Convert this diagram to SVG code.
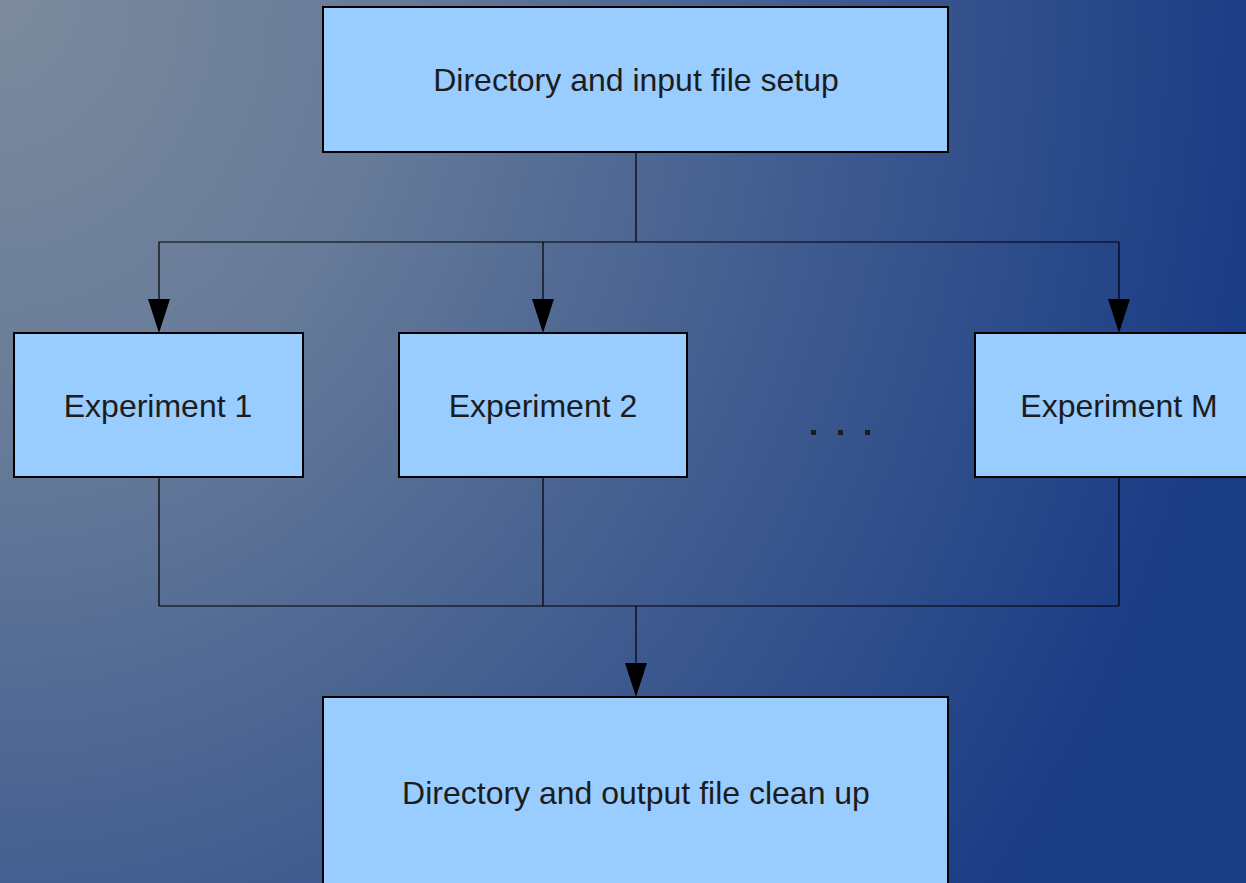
<svg xmlns="http://www.w3.org/2000/svg" width="1246" height="883" viewBox="0 0 1246 883">
<defs>
<radialGradient id="bg" gradientUnits="userSpaceOnUse" cx="0" cy="0" r="1270" gradientTransform="scale(1,1.15)">
<stop offset="0" stop-color="#7c8a9c"/>
<stop offset="0.3" stop-color="#677b99"/>
<stop offset="0.65" stop-color="#3f5b8f"/>
<stop offset="1" stop-color="#1a3c85"/>
</radialGradient>
</defs>
<style>
.box{fill:#99ccff;stroke:#000;stroke-width:2}
.lbl{font-family:"Liberation Sans",Arial,sans-serif;font-size:32px;fill:#1c1c1c;text-anchor:middle;dominant-baseline:central}
.c{fill:none;stroke:#000;stroke-width:1.2}
.arr{fill:#000}
</style>
<rect width="1246" height="883" fill="url(#bg)"/>
<g id="connectors">
<path class="c" d="M636,152 V242 M159,242 H1119 M159,242 V300 M543,242 V300 M1119,242 V300"/>
<path class="arr" d="M148,299 L170,299 L159,333 Z"/>
<path class="arr" d="M532,299 L554,299 L543,333 Z"/>
<path class="arr" d="M1108,299 L1130,299 L1119,333 Z"/>
<path class="c" d="M159,477 V606 M543,477 V606 M1119,477 V606 M159,606 H1119 M636,606 V664"/>
<path class="arr" d="M625,663 L647,663 L636,697 Z"/>
</g>
<g id="setup"><rect class="box" x="323" y="7" width="625" height="145"/><text class="lbl" x="636" y="80">Directory and input file setup</text></g>
<g id="exp1"><rect class="box" x="14" y="333" width="289" height="144"/><text class="lbl" x="158" y="406">Experiment 1</text></g>
<g id="exp2"><rect class="box" x="399" y="333" width="288" height="144"/><text class="lbl" x="543" y="406">Experiment 2</text></g>
<g id="expM"><rect class="box" x="975" y="333" width="290" height="144"/><text class="lbl" x="1119" y="406">Experiment M</text></g>
<g id="cleanup"><rect class="box" x="323" y="697" width="625" height="200"/><text class="lbl" x="636" y="793">Directory and output file clean up</text></g>
<g id="ellipsis" fill="#1c1c1c"><rect x="811" y="430" width="5" height="5"/><rect x="838" y="430" width="5" height="5"/><rect x="865" y="430" width="5" height="5"/></g>
</svg>
